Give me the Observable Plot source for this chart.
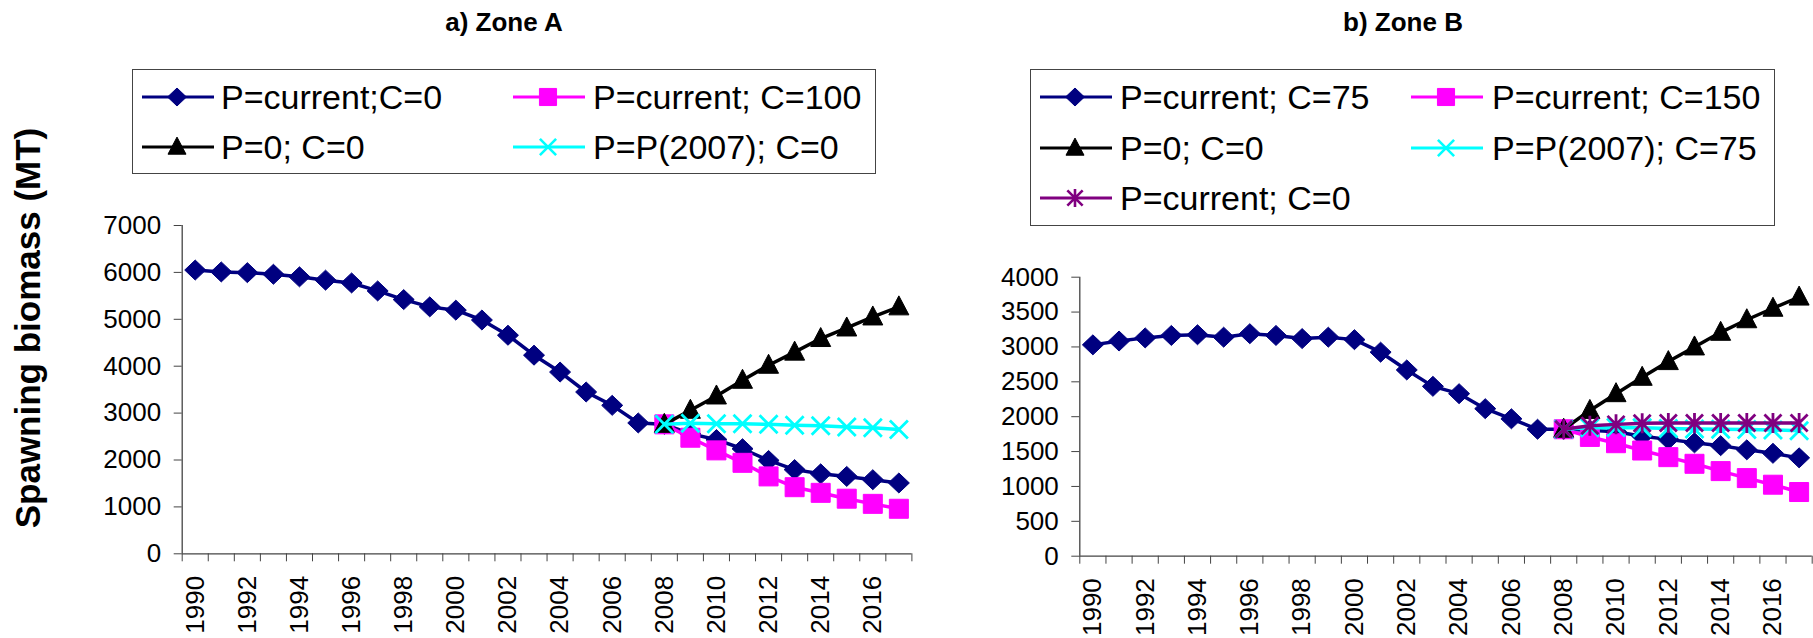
<!DOCTYPE html>
<html><head><meta charset="utf-8">
<script src="https://cdn.jsdelivr.net/npm/d3@7"></script>
<script src="https://cdn.jsdelivr.net/npm/@observablehq/plot@0.6"></script>
<style>
html,body{margin:0;padding:0;background:#fff;}
#root{position:relative;width:1813px;height:638px;overflow:hidden;font-family:"Liberation Sans",Arial,sans-serif;color:#000;background:#fff;}
.title{position:absolute;font-weight:bold;font-size:26px;line-height:26px;text-align:center;white-space:nowrap;width:300px;}
.legend-box{position:absolute;border:1.5px solid #444;box-sizing:border-box;background:#fff;}
.leg-text{position:absolute;font-size:34px;line-height:40px;height:40px;white-space:nowrap;}
.leg-swatch{position:absolute;}
.ytitle{position:absolute;font-weight:bold;font-size:35px;line-height:40px;height:40px;width:440px;text-align:center;white-space:nowrap;transform:rotate(-90deg);}
</style></head><body><div id="root"></div>
<script>
// ---------- data ----------
const years = [1990,1991,1992,1993,1994,1995,1996,1997,1998,1999,2000,2001,2002,2003,2004,2005,2006,2007,2008,2009,2010,2011,2012,2013,2014,2015,2016,2017];
const projYears = [2008,2009,2010,2011,2012,2013,2014,2015,2016,2017];
const xTickLabels = [1990,1992,1994,1996,1998,2000,2002,2004,2006,2008,2010,2012,2014,2016];
const yTicksA = [0,1000,2000,3000,4000,5000,6000,7000];
const yTicksB = [0,500,1000,1500,2000,2500,3000,3500,4000];

// Zone A
const zoneA_currentC0 = [6050,6010,5995,5960,5905,5835,5775,5605,5420,5265,5195,4985,4660,4235,3875,3450,3165,2790,2760,2560,2435,2240,1990,1795,1705,1650,1580,1510];
const zoneA_currentC100 = [2760,2475,2205,1940,1650,1420,1300,1175,1065,960];
const zoneA_P0C0 = [2760,3060,3365,3700,4020,4300,4590,4815,5050,5265];
const zoneA_P2007C0 = [2760,2785,2775,2775,2760,2740,2730,2705,2690,2650];

// Zone B
const zoneB_currentC75 = [3030,3085,3130,3165,3175,3140,3190,3165,3120,3140,3105,2925,2670,2435,2330,2115,1970,1820,1820,1805,1785,1720,1675,1625,1585,1525,1475,1410];
const zoneB_currentC150 = [1820,1710,1620,1515,1420,1325,1220,1120,1025,920];
const zoneB_P0C0 = [1820,2090,2330,2565,2790,3000,3210,3390,3555,3715];
const zoneB_P2007C75 = [1820,1840,1845,1840,1830,1825,1820,1815,1810,1800];
const zoneB_currentC0 = [1820,1870,1890,1905,1910,1910,1910,1910,1910,1910];

const titleA = "a) Zone A";
const titleB = "b) Zone B";
const yTitle = "Spawning biomass (MT)";

// ---------- markers ----------
function sym(fn){ return {draw(c, size){ const k = Math.sqrt(size/Math.PI)/10; fn(c,k); }}; }
const diamondSym = sym((c,k)=>{c.moveTo(0,-10*k);c.lineTo(10.5*k,0);c.lineTo(0,10*k);c.lineTo(-10.5*k,0);c.closePath();});
const squareSym = sym((c,k)=>{c.moveTo(-9.5*k,-9.5*k);c.lineTo(9.5*k,-9.5*k);c.lineTo(9.5*k,9.5*k);c.lineTo(-9.5*k,9.5*k);c.closePath();});
const triSym = sym((c,k)=>{c.moveTo(0,-11*k);c.lineTo(10*k,8*k);c.lineTo(-10*k,8*k);c.closePath();});
const xSym = sym((c,k)=>{c.moveTo(-9*k,-9*k);c.lineTo(9*k,9*k);c.moveTo(-9*k,9*k);c.lineTo(9*k,-9*k);});
const starSym = sym((c,k)=>{c.moveTo(-8.5*k,-8.5*k);c.lineTo(8.5*k,8.5*k);c.moveTo(-8.5*k,8.5*k);c.lineTo(8.5*k,-8.5*k);c.moveTo(0,-10*k);c.lineTo(0,10*k);});

const styles = {
  navy:   {color:"#000080", symbol:diamondSym, filled:true},
  magenta:{color:"#FF00FF", symbol:squareSym, filled:true},
  black:  {color:"#000000", symbol:triSym, filled:true},
  cyan:   {color:"#00FFFF", symbol:xSym, filled:false},
  purple: {color:"#800080", symbol:starSym, filled:false}
};

const seriesA = [
  {name:"P=current;C=0", x:years, y:zoneA_currentC0, style:"navy"},
  {name:"P=current; C=100", x:projYears, y:zoneA_currentC100, style:"magenta"},
  {name:"P=0; C=0", x:projYears, y:zoneA_P0C0, style:"black"},
  {name:"P=P(2007); C=0", x:projYears, y:zoneA_P2007C0, style:"cyan"}
];
const seriesB = [
  {name:"P=current; C=75", x:years, y:zoneB_currentC75, style:"navy"},
  {name:"P=current; C=150", x:projYears, y:zoneB_currentC150, style:"magenta"},
  {name:"P=0; C=0", x:projYears, y:zoneB_P0C0, style:"black"},
  {name:"P=P(2007); C=75", x:projYears, y:zoneB_P2007C75, style:"cyan"},
  {name:"P=current; C=0", x:projYears, y:zoneB_currentC0, style:"purple"}
];

// ---------- chart ----------
function panel(series, yTicks, dims){
  const x0 = years[0]-0.5, x1 = years[years.length-1]+0.5;
  const boundaries = years.map(d=>d-0.5).concat([x1]);
  const marks = [
    Plot.axisY({ticks:yTicks, tickSize:8, tickPadding:13, tickFormat:d=>String(d), label:null, stroke:"#444"}),
    Plot.axisX({ticks:boundaries, tickSize:8, tickFormat:()=>"", label:null, stroke:"#444"}),
    Plot.axisX({ticks:xTickLabels, tickSize:0, tickPadding:22, tickRotate:-90, tickFormat:d=>String(d), label:null}),
    Plot.ruleY([0], {stroke:"#444", strokeWidth:1.3}),
    Plot.ruleX([x0], {stroke:"#444", strokeWidth:1.3})
  ];
  for(const s of series){
    const st = styles[s.style];
    const rows = s.x.map((yr,i)=>({year:yr, value:s.y[i]}));
    marks.push(Plot.line(rows, {x:"year", y:"value", stroke:st.color, strokeWidth:3.5}));
    marks.push(Plot.dot(rows, {x:"year", y:"value", symbol:st.symbol, r:10,
      fill: st.filled ? st.color : "none", stroke: st.color, strokeWidth: st.filled ? 1 : 2.8}));
  }
  return Plot.plot({
    width:dims.width, height:dims.height,
    marginLeft:dims.ml, marginRight:dims.mr, marginTop:dims.mt, marginBottom:dims.mb,
    x:{type:"linear", domain:[x0,x1]},
    y:{domain:[0, yTicks[yTicks.length-1]]},
    style:{fontFamily:'"Liberation Sans", Arial, sans-serif', fontSize:"26px", color:"#000", background:"transparent", overflow:"visible"},
    marks
  });
}

const root = document.getElementById("root");

const svgA = panel(seriesA, yTicksA, {width:920, height:438, ml:181.7, mr:8.6, mt:25, mb:84.7});
svgA.style.position="absolute"; svgA.style.left="0px"; svgA.style.top="200px";
root.appendChild(svgA);

const svgB = panel(seriesB, yTicksB, {width:893, height:388, ml:159.3, mr:1.3, mt:26.7, mb:82.3});
svgB.style.position="absolute"; svgB.style.left="920px"; svgB.style.top="250px";
root.appendChild(svgB);

// titles
function addTitle(text, cx){
  const d = document.createElement("div");
  d.className="title"; d.textContent=text;
  d.style.left=(cx-150)+"px"; d.style.top="8.5px";
  root.appendChild(d);
}
addTitle(titleA, 504);
addTitle(titleB, 1403);

// y title
const yt = document.createElement("div");
yt.className="ytitle"; yt.textContent=yTitle;
yt.style.left=(28-220)+"px"; yt.style.top=(328-20)+"px";
root.appendChild(yt);

// legends
function swatch(styleKey){
  const st = styles[styleKey];
  const ns="http://www.w3.org/2000/svg";
  const s = document.createElementNS(ns,"svg");
  s.setAttribute("width","74"); s.setAttribute("height","30");
  s.setAttribute("class","leg-swatch");
  const l = document.createElementNS(ns,"line");
  l.setAttribute("x1","0"); l.setAttribute("x2","72"); l.setAttribute("y1","15"); l.setAttribute("y2","15");
  l.setAttribute("stroke",st.color); l.setAttribute("stroke-width","3");
  s.appendChild(l);
  const p = document.createElementNS(ns,"path");
  p.setAttribute("d", d3.symbol().type(st.symbol).size(Math.PI*81)());
  p.setAttribute("transform","translate(35,15)");
  p.setAttribute("fill", st.filled ? st.color : "none");
  p.setAttribute("stroke", st.color);
  p.setAttribute("stroke-width", st.filled ? "1" : "2.6");
  s.appendChild(p);
  return s;
}
function legend(series, box, cols, rows){
  const b = document.createElement("div");
  b.className="legend-box";
  b.style.left=box.left+"px"; b.style.top=box.top+"px";
  b.style.width=box.width+"px"; b.style.height=box.height+"px";
  root.appendChild(b);
  series.forEach((s,i)=>{
    const c = cols[i%2], ry = rows[Math.floor(i/2)];
    const sw = swatch(s.style);
    sw.style.left=c.line+"px"; sw.style.top=(ry-15)+"px";
    root.appendChild(sw);
    const t = document.createElement("div");
    t.className="leg-text"; t.textContent=s.name;
    t.style.left=c.text+"px"; t.style.top=(ry-20)+"px";
    root.appendChild(t);
  });
}
legend(seriesA, {left:132, top:69, width:744, height:105}, [{line:142,text:221},{line:513,text:593}], [96.7,146.7]);
legend(seriesB, {left:1030, top:69, width:745, height:157}, [{line:1040,text:1120},{line:1411,text:1492}], [96.7,147.5,198.3]);
</script>
</body></html>
